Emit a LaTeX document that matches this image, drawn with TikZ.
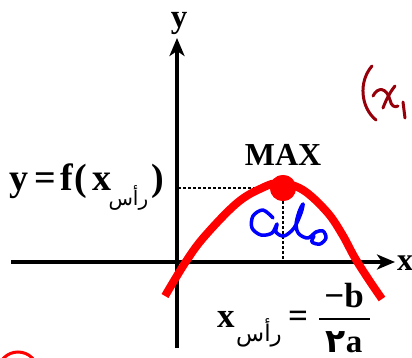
\documentclass[tikz,border=0pt]{standalone}
\usepackage{fontspec}
\setmainfont{Liberation Serif}
\newfontfamily\arabicfont[Script=Arabic]{DejaVu Sans}
\TeXXeTstate=1
\usetikzlibrary{arrows.meta}
\definecolor{ink}{RGB}{150,0,10}
\begin{document}
\begin{tikzpicture}[x=1pt,y=-1pt,
  lbl/.style={inner sep=0pt, font=\fontsize{32}{32}\selectfont\bfseries},
  big/.style={inner sep=0pt, font=\fontsize{38}{38}\selectfont\bfseries},
  frm/.style={inner sep=0pt, font=\fontsize{35}{35}\selectfont\bfseries},
  sub/.style={inner sep=0pt, font=\arabicfont\fontsize{20}{20}\selectfont},
  axis/.style={line width=4pt, -{Stealth[length=18pt,width=15pt,inset=5pt]}},
  dots/.style={line width=2.5pt, dash pattern=on 2.5pt off 2.5pt},
  curve/.style={red, line width=8pt},
  hand/.style={line cap=round, line join=round}]
\path[use as bounding box, fill=white] (0,0) rectangle (412,358);
% axes
\coordinate (yb) at (177,348);
\coordinate (yt) at (177,38);
\coordinate (xl) at (11,262);
\coordinate (xr) at (395,262);
\draw[axis] (yb) -- (yt);
\draw[axis] (xl) -- (xr);
\node[lbl, font=\fontsize{33}{33}\selectfont\bfseries, anchor=base] (ylab) at (179,28) {y};
\node[lbl, anchor=base west] (xlab) at (397,270) {x};
% dotted guides
\node[circle, fill=red, minimum size=26pt, inner sep=0pt] (top) at (283,188) {};
\coordinate (hl) at (178,188);
\coordinate (vb) at (283,262);
\draw[dots] (hl) -- (top.west);
\draw[dots] (top.south) -- (vb);
% parabola
\draw[curve] plot[smooth, tension=0.6] coordinates {(165,296) (185,263) (204,237) (237,203) (262,188) (280,183) (303,190) (327,212) (342,234) (355,258) (369,280) (382,299)};
\node[circle, fill=red, minimum size=26pt, inner sep=0pt] at (top) {};
% MAX
\node[lbl, anchor=base] (max) at (283,166) {MAX};
% left label
\node[big, anchor=base west] (lhs) at (9,191) {y\hspace{6pt}=\hspace{5pt}f\hspace{1pt}(\hspace{5pt}x};
\node[sub, anchor=base west] (lsub) at ([shift={(-3,14)}]lhs.base east) {\beginR رأس\endR};
\node[big, anchor=base west] (rp) at ([shift={(3,-14)}]lsub.base east) {)};
% bottom formula
\node[frm, anchor=base west] (bx) at (217,327) {x};
\node[sub, font=\arabicfont\fontsize{23}{23}\selectfont, anchor=base west] (bsub) at (236,341) {\beginR رأس\endR};
\node[frm] (eq) at (298,319) {=};
\node[frm, anchor=base] (num) at (344,307) {−b};
\coordinate (fl) at (319,319);
\coordinate (fr) at (370,319);
\draw[line width=2.5pt] (fl) -- (fr);
\node[frm, font=\fontsize{33}{33}\selectfont\bfseries, anchor=base, text depth=0pt] (den) at (344,352) {{\arabicfont ٢}a};
% handwriting (blue)
\draw[blue, line width=3.5pt, hand] plot[smooth, tension=0.55] coordinates {(273,218) (263,210) (253,216) (252,228) (261,235) (272,233) (277,224) (276,232) (284,236) (294,228) (301,213) (303,204) (299,212) (296,225) (299,234) (308,238) (316,232) (323,231) (326,238) (320,244) (312,242) (314,236)};
% handwriting (dark red)
\draw[ink, line width=3pt, hand] (372,66) .. controls (358,82) and (361,108) .. (376,120);
\draw[ink, line width=3pt, hand] (373,96) .. controls (378,86) and (387,88) .. (390,100) .. controls (391,106) and (395,108) .. (398,106);
\draw[ink, line width=3pt, hand] (395,86) .. controls (390,92) and (386,100) .. (383,108);
\draw[ink, line width=3pt, hand] (403,102) -- (405,118);
% red circle mark
\draw[red, line width=3pt] (18,372) circle (20);
\end{tikzpicture}
\end{document}
